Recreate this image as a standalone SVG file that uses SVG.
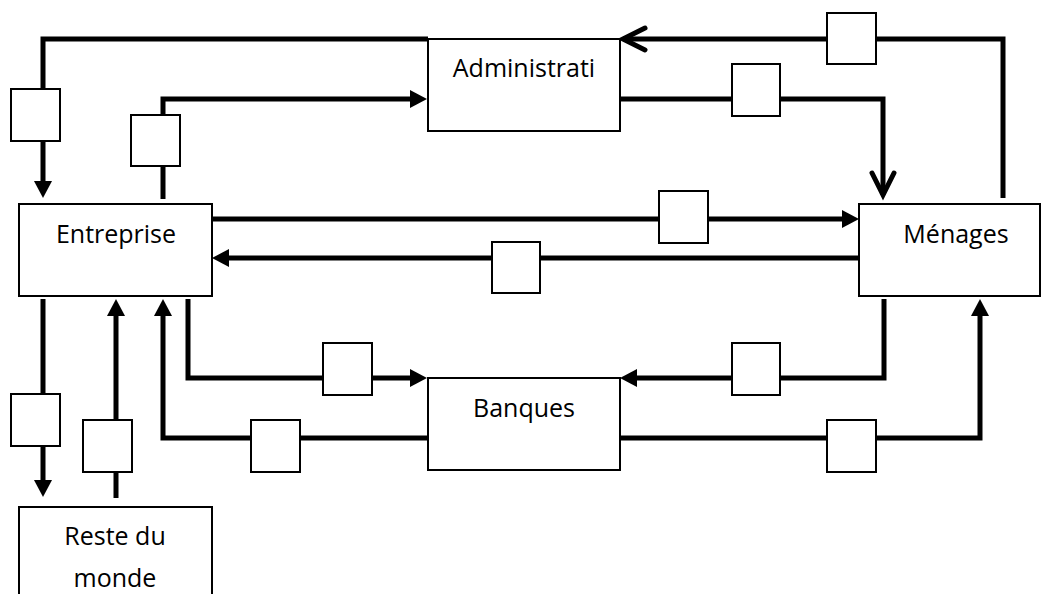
<svg xmlns="http://www.w3.org/2000/svg" width="1041" height="594" viewBox="0 0 1041 594">
<style>
.node{fill:#fff;stroke:#000;stroke-width:2}
.lbl{fill:#fff;stroke:#000;stroke-width:2}
.t{font-family:"Open Sans","Noto Sans",sans-serif;font-size:25px;fill:#000;text-anchor:middle}
.c{fill:none;stroke:#000;stroke-width:5;stroke-linejoin:miter}
.ca{marker-end:url(#arr)}
.co{marker-end:url(#open)}
</style>
<defs>
<marker id="arr" markerUnits="userSpaceOnUse" markerWidth="18" markerHeight="18" refX="0" refY="9" orient="auto" overflow="visible">
<path d="M0,0 L17,9 L0,18 z" fill="#000"/>
</marker>
<marker id="open" markerUnits="userSpaceOnUse" markerWidth="30" markerHeight="30" refX="23" refY="12" orient="auto" overflow="visible">
<path d="M1,1 L23,12 L1,23" fill="none" stroke="#000" stroke-width="5" stroke-linecap="round"/>
</marker>
</defs>
<rect width="1041" height="594" fill="#fff"/>
<g id="connectors">
<path class="c ca" d="M428,39 H43 V181"/>
<path class="c ca" d="M163,199 V99 H410"/>
<path class="c co" d="M620,99 H883 V195"/>
<path class="c co" d="M1003,198 V39 H623"/>
<path class="c ca" d="M212,219 H842"/>
<path class="c ca" d="M859,258 H229"/>
<path class="c ca" d="M43,299 V480"/>
<path class="c ca" d="M116,498 V316"/>
<path class="c ca" d="M428,438 H163 V316"/>
<path class="c ca" d="M188,299 V378 H410"/>
<path class="c ca" d="M884,299 V378 H637"/>
<path class="c ca" d="M620,438 H980 V316"/>
<g id="connector-labels">
<rect class="lbl" x="11" y="89" width="49" height="52"/>
<rect class="lbl" x="131" y="115" width="49" height="51"/>
<rect class="lbl" x="827" y="13" width="49" height="51"/>
<rect class="lbl" x="732" y="64" width="48" height="52"/>
<rect class="lbl" x="659" y="191" width="49" height="52"/>
<rect class="lbl" x="492" y="242" width="48" height="51"/>
<rect class="lbl" x="11" y="394" width="49" height="52"/>
<rect class="lbl" x="83" y="420" width="49" height="52"/>
<rect class="lbl" x="251" y="420" width="49" height="52"/>
<rect class="lbl" x="323" y="343" width="49" height="52"/>
<rect class="lbl" x="732" y="343" width="48" height="52"/>
<rect class="lbl" x="827" y="420" width="49" height="52"/>
</g>
</g>
<g id="administration">
<rect class="node" x="428" y="39" width="192" height="92"/>
<text class="t" x="524" y="77">Administrati</text>
</g>
<g id="entreprise">
<rect class="node" x="19" y="204" width="193" height="92"/>
<text class="t" x="116" y="243">Entreprise</text>
</g>
<g id="menages">
<rect class="node" x="859" y="204" width="181" height="92"/>
<text class="t" x="956" y="243">Ménages</text>
</g>
<g id="banques">
<rect class="node" x="428" y="378" width="192" height="92"/>
<text class="t" x="524" y="417">Banques</text>
</g>
<g id="reste-du-monde">
<rect class="node" x="19" y="507" width="193" height="100"/>
<text class="t" x="115" y="545">Reste du</text>
<text class="t" x="115" y="587">monde</text>
</g>
</svg>
